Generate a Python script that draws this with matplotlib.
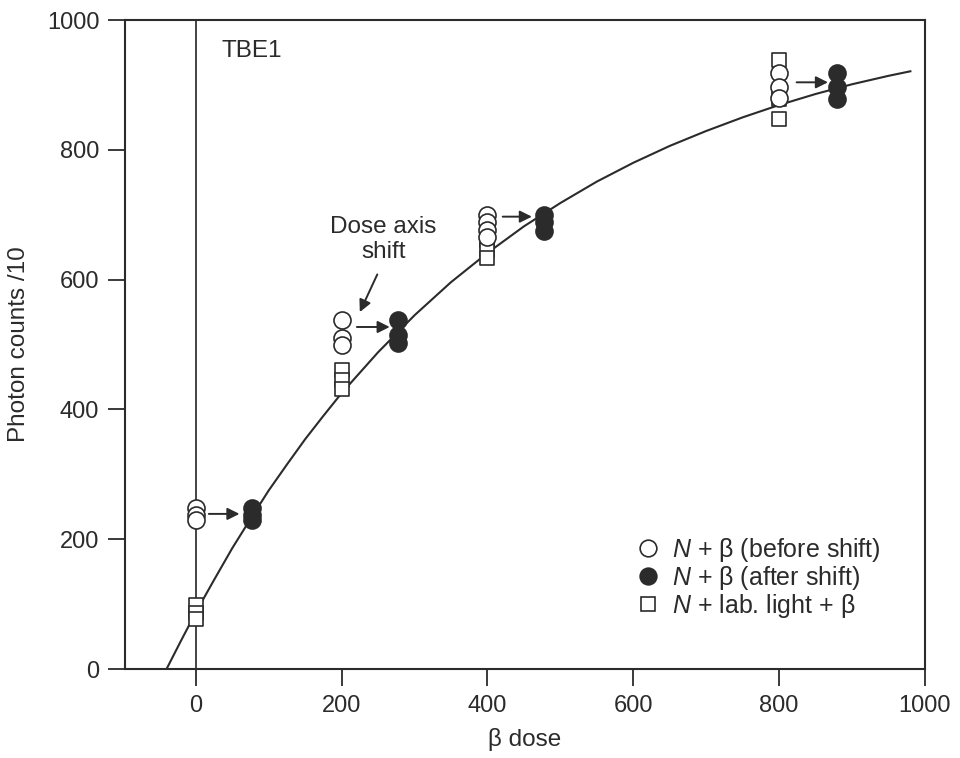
import matplotlib
matplotlib.use("Agg")
import matplotlib.pyplot as plt

plt.rcParams["font.family"] = ["Liberation Sans", "DejaVu Sans"]
plt.rcParams["mathtext.fontset"] = "custom"
plt.rcParams["mathtext.it"] = "Liberation Sans:italic"
plt.rcParams["mathtext.rm"] = "Liberation Sans"

# dose groups (x) and photon counts /10 (y)
before_x = [0, 0, 0, 200, 200, 200, 400, 400, 400, 400, 800, 800, 800]
before_y = [248, 238, 230, 537, 510, 500, 700, 688, 676, 665, 918, 897, 880]

after_x = [77, 77, 77, 277, 277, 277, 477, 477, 477, 880, 880, 880]
after_y = [248, 238, 230, 537, 515, 503, 700, 688, 675, 918, 897, 878]

light_x = [0, 0, 0, 200, 200, 200, 400, 400, 400, 800, 800, 800]
light_y = [98, 86, 77, 460, 446, 432, 660, 646, 634, 938, 878, 847]

# fitted growth curve
curve_x = [-40, -20, 0, 25, 50, 75, 100, 125, 150, 175, 200, 250, 300, 350,
           400, 450, 500, 550, 600, 650, 700, 750, 800, 850, 900, 950, 980]
curve_y = [0, 44, 87, 137, 186, 231, 275, 315, 354, 390, 425, 488, 545, 596,
           641, 682, 718, 751, 780, 806, 829, 850, 869, 886, 901, 914, 921]

# shift arrows: start x, end x, y
shift_from = [18, 221, 421, 824]
shift_to = [60, 266, 461, 867]
shift_y = [239, 527, 697, 904]

fig = plt.figure(figsize=(9.6, 7.58), dpi=100)
ax = fig.add_axes([0.1302, 0.1174, 0.8333, 0.8562])

ink = "#2b2b2b"

ax.axvline(0, color="#444444", lw=1.4, zorder=1)
ax.plot(curve_x, curve_y, color=ink, lw=1.5, zorder=2)

ax.scatter(light_x, light_y, marker="s", s=95, facecolors="white",
           edgecolors=ink, linewidths=1.2, zorder=3)
ax.scatter(before_x, before_y, marker="o", s=150, facecolors="white",
           edgecolors=ink, linewidths=1.2, zorder=4)
ax.scatter(after_x, after_y, marker="o", s=150, facecolors=ink,
           edgecolors=ink, linewidths=1.2, zorder=4)

for x0, x1, y in zip(shift_from, shift_to, shift_y):
    ax.annotate("", xy=(x1, y), xytext=(x0, y),
                arrowprops=dict(arrowstyle="-|>", color=ink, lw=1.4,
                                mutation_scale=18, shrinkA=0, shrinkB=0))

ax.text(257, 662, "Dose axis\nshift", ha="center", va="center",
        fontsize=17.5, color=ink, linespacing=1.15)
ax.annotate("", xy=(225, 550), xytext=(249, 608),
            arrowprops=dict(arrowstyle="-|>", color=ink, lw=1.4,
                            mutation_scale=18, shrinkA=0, shrinkB=0))

ax.text(36, 952, "TBE1", fontsize=17.5, color=ink, va="center")

# legend
h1 = plt.Line2D([], [], ls="none", marker="o", ms=12, mfc="white",
                mec=ink, mew=1.2)
h2 = plt.Line2D([], [], ls="none", marker="o", ms=12, mfc=ink,
                mec=ink, mew=1.2)
h3 = plt.Line2D([], [], ls="none", marker="s", ms=9.5, mfc="white",
                mec=ink, mew=1.2)
ax.legend([h1, h2, h3],
          ["$N$ + β (before shift)", "$N$ + β (after shift)",
           "$N$ + lab. light + β"],
          loc="upper left", bbox_to_anchor=(0.638, 0.205), frameon=False,
          fontsize=18, handlelength=1.0, handletextpad=0.45,
          labelspacing=0.0, borderpad=0, borderaxespad=0,
          labelcolor=ink)

ax.set_xlim(-97, 1000)
ax.set_ylim(0, 1000)
ax.set_xticks([0, 200, 400, 600, 800, 1000])
ax.set_yticks([0, 200, 400, 600, 800, 1000])
ax.tick_params(direction="out", length=12.5, width=1.3, labelsize=17,
               colors=ink, pad=6)
for sp in ax.spines.values():
    sp.set_linewidth(1.5)
    sp.set_color(ink)

ax.set_xlabel("β dose", fontsize=17.5, color=ink, labelpad=8)
ax.set_ylabel("Photon counts /10", fontsize=17.5, color=ink, labelpad=12)

fig.savefig("out.png", dpi=100)
